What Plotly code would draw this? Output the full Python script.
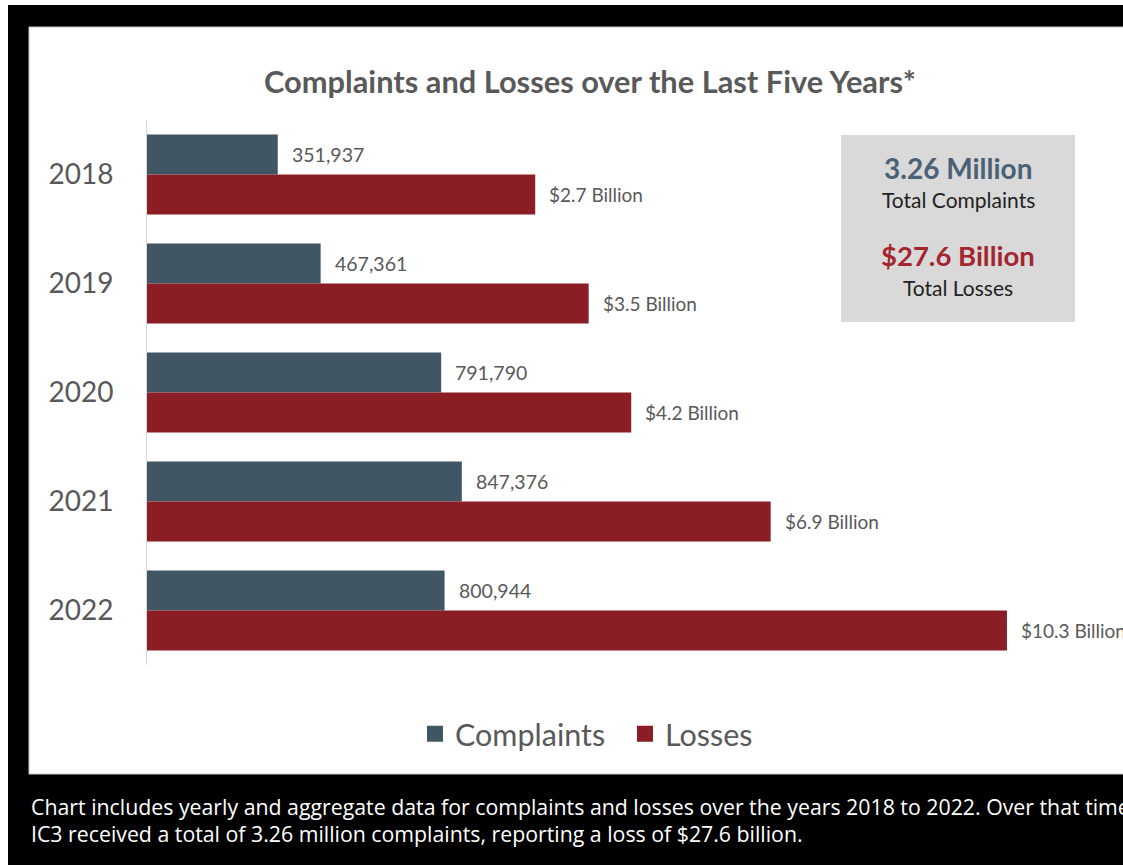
import plotly.graph_objects as go

# ---------------- data ----------------
years = ["2018", "2019", "2020", "2021", "2022"]
complaints = [351937, 467361, 791790, 847376, 800944]
complaint_labels = ["351,937", "467,361", "791,790", "847,376", "800,944"]
losses_billion = [2.7, 3.5, 4.2, 6.9, 10.3]
loss_labels = ["$2.7 Billion", "$3.5 Billion", "$4.2 Billion", "$6.9 Billion", "$10.3 Billion"]
# the source graphic is not drawn to scale: bar lengths as drawn, in billions on the $10.3B bar's scale
loss_bar_drawn = [4.65, 5.29, 5.80, 7.47, 10.3]

total_complaints = "3.26 Million"
total_losses = "$27.6 Billion"

title = "Complaints and Losses over the Last Five Years*"
caption = [
    "Chart includes yearly and aggregate data for complaints and losses over the years 2018 to 2022. Over that time",
    "IC3 received a total of 3.26 million complaints, reporting a loss of $27.6 billion.",
]

# ---------------- style ----------------
W, H = 1123, 865
C_COMP = "#415665"
C_LOSS = "#8B1E25"
GREY_TXT = "#595959"
FONT = "Lato"


def px(x):
    return x / W


def py(y):
    return 1 - y / H


fig = go.Figure()

bar_w = 0.367
fig.add_trace(go.Bar(
    y=years, x=complaints, orientation="h", xaxis="x", yaxis="y",
    width=bar_w, offset=-bar_w, marker=dict(color=C_COMP, line=dict(width=0)),
    showlegend=False, name="Complaints", hoverinfo="skip"))
fig.add_trace(go.Bar(
    y=years, x=loss_bar_drawn, orientation="h", xaxis="x2", yaxis="y",
    width=bar_w, offset=0, marker=dict(color=C_LOSS, line=dict(width=0)),
    showlegend=False, name="Losses", hoverinfo="skip"))

# legend entries
fig.add_trace(go.Scatter(x=[None], y=[None], mode="markers", name="Complaints",
                         marker=dict(symbol="square", size=17, color=C_COMP)))
fig.add_trace(go.Scatter(x=[None], y=[None], mode="markers", name="Losses",
                         marker=dict(symbol="square", size=17, color=C_LOSS)))

shapes = [
    dict(type="rect", xref="paper", yref="paper", x0=0, x1=1, y0=py(5), y1=1,
         fillcolor="white", line=dict(width=0), layer="below"),
    dict(type="rect", xref="paper", yref="paper", x0=0, x1=px(8), y0=0, y1=1,
         fillcolor="white", line=dict(width=0), layer="below"),
    dict(type="rect", xref="paper", yref="paper", x0=px(29), x1=1.01, y0=py(774), y1=py(27),
         fillcolor="white", line=dict(width=1, color="#c8c8c8"), layer="below"),
    dict(type="rect", xref="paper", yref="paper", x0=px(841), x1=px(1075), y0=py(322), y1=py(135),
         fillcolor="#D9D9D9", line=dict(width=0), layer="below"),
]

annotations = []
# category axes take the category's serial number as position
for i, (v, lab) in enumerate(zip(complaints, complaint_labels)):
    annotations.append(dict(x=v, y=i, xref="x", yref="y", text=lab, showarrow=False,
                            xanchor="left", yanchor="middle", xshift=12, yshift=20,
                            font=dict(family=FONT, size=19.5, color=GREY_TXT)))
for i, (v, lab) in enumerate(zip(loss_bar_drawn, loss_labels)):
    annotations.append(dict(x=v, y=i, xref="x2", yref="y", text=lab, showarrow=False,
                            xanchor="left", yanchor="middle", xshift=12, yshift=-20,
                            font=dict(family=FONT, size=19, color=GREY_TXT)))

annotations += [
    dict(x=px(590), y=py(82), xref="paper", yref="paper", text="<b>" + title + "</b>",
         showarrow=False, xanchor="center", yanchor="middle",
         font=dict(family=FONT, size=30.8, color=GREY_TXT)),
    dict(x=px(958), y=py(168), xref="paper", yref="paper", text="<b>" + total_complaints + "</b>",
         showarrow=False, xanchor="center", yanchor="middle",
         font=dict(family=FONT, size=28, color="#4A6176")),
    dict(x=px(958), y=py(199), xref="paper", yref="paper", text="Total Complaints",
         showarrow=False, xanchor="center", yanchor="middle",
         font=dict(family=FONT, size=21, color="#222222")),
    dict(x=px(958), y=py(255), xref="paper", yref="paper", text="<b>" + total_losses + "</b>",
         showarrow=False, xanchor="center", yanchor="middle",
         font=dict(family=FONT, size=27.5, color="#A3262F")),
    dict(x=px(958), y=py(287), xref="paper", yref="paper", text="Total Losses",
         showarrow=False, xanchor="center", yanchor="middle",
         font=dict(family=FONT, size=21, color="#222222")),
]
for i, line in enumerate(caption):
    annotations.append(dict(x=px(29), y=py(806 + 27 * i), xref="paper", yref="paper", text=line,
                            showarrow=False, xanchor="left", yanchor="middle",
                            font=dict(family="Open Sans", size=21.3, color="white")))

fig.update_layout(
    width=W, height=H,
    margin=dict(l=0, r=0, t=0, b=0),
    paper_bgcolor="black",
    plot_bgcolor="rgba(0,0,0,0)",
    barmode="overlay",
    xaxis=dict(domain=[px(147), 1], range=[0, 2627000], visible=False, fixedrange=True),
    xaxis2=dict(overlaying="x", range=[0, 11.69], visible=False, fixedrange=True),
    yaxis=dict(domain=[py(665), py(120)], type="category", categoryorder="array",
               categoryarray=years, range=[4.5, -0.5], showline=True, linecolor="#D9D9D9",
               linewidth=1, ticks="", ticklabelstandoff=27, showgrid=False, zeroline=False,
               tickfont=dict(family=FONT, size=28, color=GREY_TXT), fixedrange=True),
    legend=dict(orientation="h", x=px(625), y=py(734), xanchor="center", yanchor="middle",
                font=dict(family=FONT, size=30.5, color=GREY_TXT), bgcolor="rgba(0,0,0,0)",
                entrywidth=165, itemclick=False, itemdoubleclick=False),
    shapes=shapes,
    annotations=annotations,
    showlegend=True,
)

fig.write_html("out.html")
